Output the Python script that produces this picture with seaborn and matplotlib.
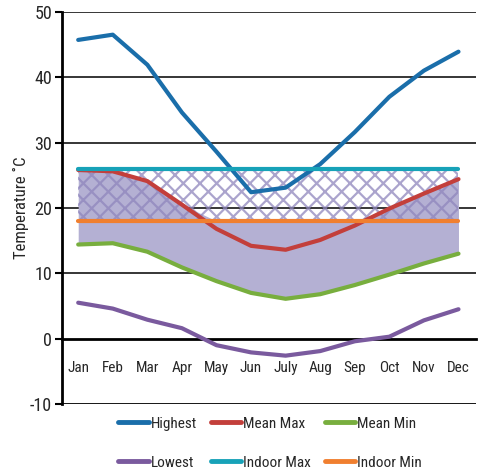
import numpy as np
import pandas as pd
import seaborn as sns
import matplotlib
matplotlib.use("Agg")
import matplotlib.pyplot as plt
from matplotlib import font_manager
from matplotlib.lines import Line2D

months = ["Jan", "Feb", "Mar", "Apr", "May", "Jun", "July", "Aug", "Sep", "Oct", "Nov", "Dec"]
highest = [45.7, 46.5, 41.9, 34.6, 28.6, 22.4, 23.1, 26.7, 31.6, 37.0, 41.0, 43.9]
mean_max = [25.8, 25.6, 24.1, 20.5, 16.8, 14.2, 13.6, 15.1, 17.3, 19.9, 22.2, 24.4]
mean_min = [14.4, 14.6, 13.3, 10.9, 8.8, 7.0, 6.1, 6.8, 8.2, 9.8, 11.5, 13.0]
lowest = [5.5, 4.6, 2.9, 1.6, -1.0, -2.1, -2.6, -1.9, -0.4, 0.3, 2.8, 4.5]
indoor_max = [26] * 12
indoor_min = [18] * 12
yticks = [-10, 0, 10, 20, 30, 40, 50]

series_names = ["Highest", "Mean Max", "Mean Min", "Lowest", "Indoor Max", "Indoor Min"]
series_vals = [highest, mean_max, mean_min, lowest, indoor_max, indoor_min]
colors = {"Highest": "#1a6eaa", "Mean Max": "#c33f3b", "Mean Min": "#78ae3e",
          "Lowest": "#7a5a9e", "Indoor Max": "#17a2b8", "Indoor Min": "#f07f2f"}

sns.set_theme(style="white")
fonts = font_manager.fontManager.ttflist
names = {f.name for f in fonts}
fam = None
for cand in ["Liberation Sans Narrow", "Roboto Condensed", "Open Sans Condensed", "Noto Sans Condensed"]:
    if cand in names:
        fam = [cand, "DejaVu Sans"]
        break
if fam is None:
    if any(f.name == "DejaVu Sans" and "Condensed" in f.fname for f in fonts):
        fam = ["DejaVu Sans"]
        plt.rcParams["font.stretch"] = "condensed"
    else:
        fam = ["Liberation Sans", "DejaVu Sans"]
plt.rcParams["font.family"] = fam
plt.rcParams["hatch.linewidth"] = 1.6

x = np.arange(12)
rows = []
for name, vals in zip(series_names, series_vals):
    for i, v in enumerate(vals):
        rows.append({"x": i, "Temp": v, "Series": name})
df = pd.DataFrame(rows)

fig = plt.figure(figsize=(4.84, 4.72), dpi=100)
ax = fig.add_axes([0.128, 0.144, 0.855, 0.831])

for yv in [10, 20, 30, 40, 50]:
    ax.axhline(yv, color="black", lw=1.1, zorder=0.5)
ax.axhline(-10, color="black", lw=2.0, zorder=0.5)

upper = np.maximum(np.array(mean_max), np.array(indoor_min))
ax.fill_between(x, mean_min, upper, color="#b4b0d3", lw=0, zorder=1)
ax.fill_between(x, indoor_min, indoor_max, facecolor="none", edgecolor="#8f86bd",
                hatch="xx", lw=0, zorder=1.5, alpha=0.75)

sns.lineplot(data=df, x="x", y="Temp", hue="Series", hue_order=series_names,
             palette=colors, linewidth=3, sort=False, ax=ax, zorder=3, legend=False)

ax.set_xlim(-0.47, 11.5)
ax.set_ylim(-10, 50)
ax.set_yticks(yticks)
ax.set_yticklabels([str(t) for t in yticks], fontsize=13)
ax.set_xticks(np.arange(0.5, 12, 1))
ax.set_xticklabels([])
ax.set_xticks(x, minor=True)
ax.set_xticklabels(months, minor=True, fontsize=12)
ax.tick_params(axis="x", which="major", direction="out", length=5, width=1.2, color="black")
ax.tick_params(axis="x", which="minor", length=0, pad=16)
ax.tick_params(axis="y", direction="out", length=5, width=1.5, color="black", pad=2, left=True)
ax.spines["bottom"].set_position(("data", 0))
ax.spines["bottom"].set_linewidth(2.0)
ax.spines["bottom"].set_color("black")
ax.spines["left"].set_linewidth(2.0)
ax.spines["left"].set_color("black")
ax.spines["top"].set_visible(False)
ax.spines["right"].set_visible(False)
ax.set_xlabel("")
ax.set_ylabel("Temperature ˚C", fontsize=12, labelpad=1)

handles = [Line2D([], [], color=colors[n], lw=3.5) for n in series_names]
order = [0, 3, 1, 4, 2, 5]
fig.legend([handles[i] for i in order], [series_names[i] for i in order],
           loc="upper center", bbox_to_anchor=(0.558, 0.140), ncol=3, frameon=False,
           fontsize=11, handlelength=2.0, handletextpad=0.12, columnspacing=0.9,
           labelspacing=1.65, borderpad=0.2)

fig.savefig("out.png", dpi=100)
